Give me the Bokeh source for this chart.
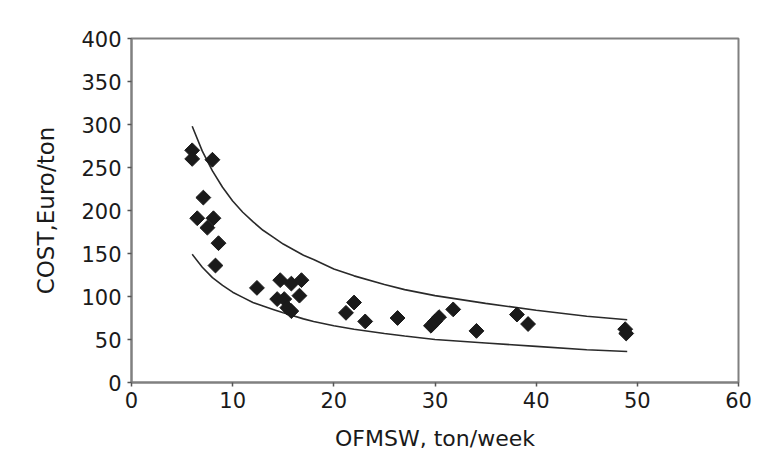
import math
from bokeh.plotting import figure
from bokeh.models import Range1d, FixedTicker, ColumnDataSource
from bokeh.embed import file_html
from bokeh.resources import INLINE

# Measured points (OFMSW ton/week, cost Euro/ton)
pts_x = [6.0, 6.0, 8.0, 7.1, 6.5, 8.1, 7.5, 8.6, 8.3, 12.4, 14.7, 14.4, 15.1,
         15.8, 16.8, 16.6, 15.4, 15.8, 21.2, 22.0, 23.1, 26.3, 29.6, 30.0,
         30.4, 31.8, 34.1, 38.1, 39.2, 48.8, 48.9]
pts_y = [270, 260, 259, 215, 191, 191, 180, 162, 136, 110, 119, 97, 97,
         115, 119, 101, 87, 83, 81, 93, 71, 75, 66, 71, 76, 85, 60, 79, 68,
         62, 57]

# Upper and lower bounding curves
curve_x = [6, 7, 8, 9, 10, 11, 12, 13, 14, 15, 17, 18, 20, 22, 25, 27, 30,
           35, 40, 45, 49]
upper_y = [298, 269, 246, 227, 211, 198, 187, 177, 169, 161, 148, 143, 132,
           124, 114, 108, 101, 92, 84, 77, 73]
lower_y = [149, 134, 122, 113, 105, 99, 93, 89, 85, 81, 74, 71, 66, 62, 57,
           54, 50, 46, 42, 38, 36]

x_ticks = [0, 10, 20, 30, 40, 50, 60]
y_ticks = [0, 50, 100, 150, 200, 250, 300, 350, 400]

FONT = "DejaVu Sans"
AX = "#808080"

p = figure(width=760, height=453, output_backend="svg", toolbar_location=None,
           x_range=Range1d(0, 60), y_range=Range1d(0, 400),
           min_border_left=131, min_border_right=22, min_border_top=38,
           min_border_bottom=69)

p.xgrid.visible = False
p.ygrid.visible = False
p.background_fill_color = "white"
p.border_fill_color = "white"
p.outline_line_color = AX
p.outline_line_width = 2

p.xaxis.ticker = FixedTicker(ticks=x_ticks)
p.yaxis.ticker = FixedTicker(ticks=y_ticks)
p.xaxis.minor_tick_line_color = None
p.yaxis.minor_tick_line_color = None
for ax in (p.xaxis, p.yaxis):
    ax.axis_line_color = AX
    ax.axis_line_width = 2
    ax.major_tick_line_color = "#555555"
    ax.major_tick_line_width = 1.5
    ax.major_tick_out = 4
    ax.major_tick_in = 0
    ax.major_label_text_font = FONT
    ax.major_label_text_font_size = "21px"
    ax.major_label_text_color = "#1a1a1a"
    ax.axis_label_text_font = FONT
    ax.axis_label_text_font_style = "normal"
    ax.axis_label_text_color = "#1a1a1a"

p.xaxis.axis_label = "OFMSW, ton/week"
p.yaxis.axis_label = "COST,Euro/ton"
p.xaxis.axis_label_text_font_size = "22px"
p.yaxis.axis_label_text_font_size = "23px"
p.xaxis.major_label_standoff = 5
p.yaxis.major_label_standoff = 6
p.xaxis.axis_label_standoff = 15
p.yaxis.axis_label_standoff = 19

p.line(curve_x, upper_y, line_color="#2a2a2a", line_width=1.6)
p.line(curve_x, lower_y, line_color="#2a2a2a", line_width=1.6)

src = ColumnDataSource(data=dict(x=pts_x, y=pts_y))
p.scatter("x", "y", source=src, marker="square", angle=math.pi / 4, size=10.5,
          fill_color="#1a1a1a", line_color="#1a1a1a")

open("out.html", "w").write(file_html(p, INLINE))
